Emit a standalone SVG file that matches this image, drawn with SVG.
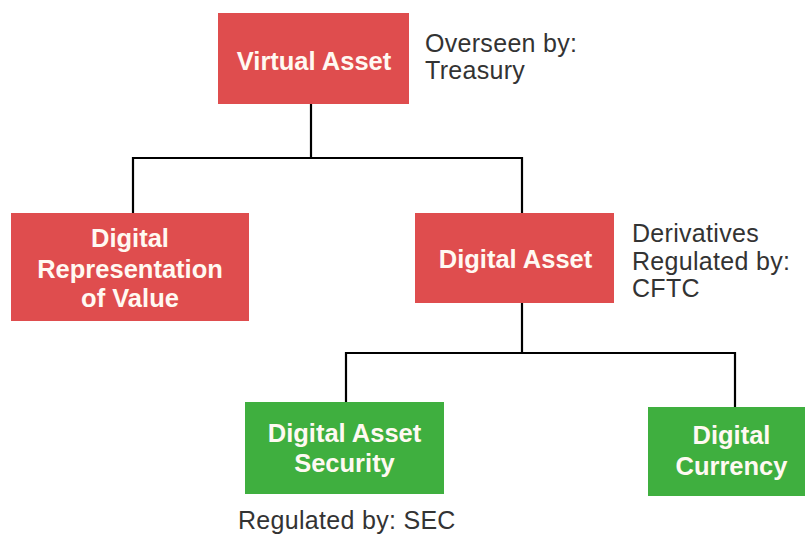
<svg xmlns="http://www.w3.org/2000/svg" width="805" height="534" viewBox="0 0 805 534">
<style>
.red{fill:#DF4D4E;}
.green{fill:#3FAF3F;}
.lbl{font-family:"Liberation Sans",Arial,sans-serif;font-weight:bold;font-size:25.5px;fill:#FFF9F2;text-anchor:middle;}
.note{font-family:"Liberation Sans",Arial,sans-serif;font-size:25px;fill:#333333;letter-spacing:0.3px;}
.conn{fill:none;stroke:#000;stroke-width:2.2;}
</style>
<rect width="805" height="534" fill="#fff"/>
<g id="connectors">
<path class="conn" d="M311 104 V158 M133 213 V158 H522 V213"/>
<path class="conn" d="M522 303 V353 M346 402 V353 H735 V407"/>
</g>
<g id="virtual-asset">
<rect class="red" x="218" y="13" width="191" height="91"/>
<text class="lbl" x="314" y="70">Virtual Asset</text>
<text class="note" x="425" y="52">Overseen by:</text>
<text class="note" x="425" y="79">Treasury</text>
</g>
<g id="digital-representation">
<rect class="red" x="11" y="213" width="238" height="108"/>
<text class="lbl" x="130" y="247">Digital</text>
<text class="lbl" x="130" y="278">Representation</text>
<text class="lbl" x="130" y="307">of Value</text>
</g>
<g id="digital-asset">
<rect class="red" x="415" y="213" width="199" height="90"/>
<text class="lbl" x="515.5" y="268">Digital Asset</text>
<text class="note" x="632" y="242">Derivatives</text>
<text class="note" x="632" y="270">Regulated by:</text>
<text class="note" x="632" y="297">CFTC</text>
</g>
<g id="digital-asset-security">
<rect class="green" x="245" y="402" width="199" height="92"/>
<text class="lbl" x="344.5" y="442">Digital Asset</text>
<text class="lbl" x="344.5" y="472">Security</text>
<text class="note" x="238" y="529">Regulated by: SEC</text>
</g>
<g id="digital-currency">
<rect class="green" x="648" y="407" width="167" height="89"/>
<text class="lbl" x="731.5" y="444">Digital</text>
<text class="lbl" x="731.5" y="475">Currency</text>
</g>
</svg>
